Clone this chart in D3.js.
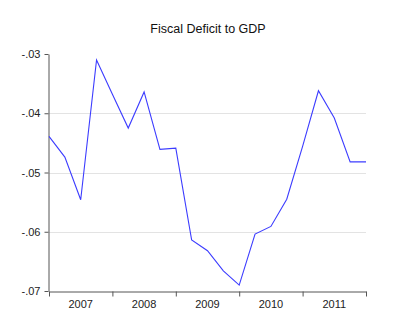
<!DOCTYPE html>
<html>
<head>
<meta charset="utf-8">
<script src="https://cdn.jsdelivr.net/npm/d3@7"></script>
<style>
  html, body { margin: 0; padding: 0; background: #fff; }
  svg { display: block; font-family: "Liberation Sans", Arial, sans-serif; }
</style>
</head>
<body>
<svg id="chart" width="400" height="331"></svg>
<script>
const title = "Fiscal Deficit to GDP";
const quarters = ["2007Q1","2007Q2","2007Q3","2007Q4","2008Q1","2008Q2","2008Q3","2008Q4",
  "2009Q1","2009Q2","2009Q3","2009Q4","2010Q1","2010Q2","2010Q3","2010Q4",
  "2011Q1","2011Q2","2011Q3","2011Q4","2012Q1"];
const values = [-0.0439, -0.0474, -0.0546, -0.0310, -0.0368, -0.0425, -0.0364, -0.0461,
  -0.0459, -0.0614, -0.0632, -0.0666, -0.0690, -0.0604, -0.0591, -0.0545,
  -0.0456, -0.0362, -0.0408, -0.0482, -0.0482];
const yTicks = [-0.07, -0.06, -0.05, -0.04, -0.03];
const gridTicks = [-0.06, -0.05, -0.04];
const yearTicks = [2007, 2008, 2009, 2010, 2011, 2012];
const yearLabels = ["2007", "2008", "2009", "2010", "2011"];

const svg = d3.select("#chart");
const x = d3.scaleLinear().domain([2007, 2012]).range([49, 366]);
const y = d3.scaleLinear().domain([-0.07, -0.03]).range([291, 54]);

const toTime = q => +q.slice(0, 4) + (+q.slice(5) - 1) / 4;
const data = quarters.map((q, i) => ({ t: toTime(q), v: values[i] }));

// title
svg.append("text")
  .attr("x", 208).attr("y", 33)
  .attr("text-anchor", "middle")
  .attr("font-size", 12.5)
  .attr("fill", "#111")
  .text(title);

// gridlines
svg.append("g").selectAll("line").data(gridTicks).join("line")
  .attr("x1", x(2007)).attr("x2", x(2012))
  .attr("y1", d => Math.round(y(d)) + 0.5).attr("y2", d => Math.round(y(d)) + 0.5)
  .attr("stroke", "#e3e3e3").attr("stroke-width", 1);

// y axis
const locale = d3.formatLocale({ decimal: ".", thousands: ",", grouping: [3], currency: ["", ""], minus: "-" });
const fmt = d => locale.format(".2f")(d).replace("0.", ".");
const yAxis = svg.append("g")
  .attr("transform", `translate(${x(2007) - 0.5},0)`)
  .call(d3.axisLeft(y).tickValues(yTicks).tickFormat(fmt).tickSize(4).tickSizeOuter(0));
yAxis.select(".domain").attr("stroke", "#555");
yAxis.selectAll(".tick line").attr("stroke", "#555");
yAxis.selectAll(".tick text").attr("font-size", 11).attr("fill", "#222")
  .attr("font-family", "Liberation Sans, Arial, sans-serif").attr("x", -8);

// x axis
const xAxis = svg.append("g")
  .attr("transform", `translate(0,${y(-0.07) + 0.5})`)
  .call(d3.axisBottom(x).tickValues(yearTicks).tickFormat("").tickSize(5).tickSizeOuter(0));
xAxis.select(".domain").attr("stroke", "#555");
xAxis.selectAll(".tick line").attr("stroke", "#555");

svg.append("g").selectAll("text").data(yearLabels).join("text")
  .attr("x", d => x(+d + 0.5))
  .attr("y", 308)
  .attr("text-anchor", "middle")
  .attr("font-size", 11)
  .attr("fill", "#222")
  .text(d => d);

// line
const line = d3.line().x(d => x(d.t)).y(d => y(d.v));
svg.append("path")
  .datum(data)
  .attr("d", line)
  .attr("fill", "none")
  .attr("stroke", "#3c3cff")
  .attr("stroke-width", 1.1);
</script>
</body>
</html>
